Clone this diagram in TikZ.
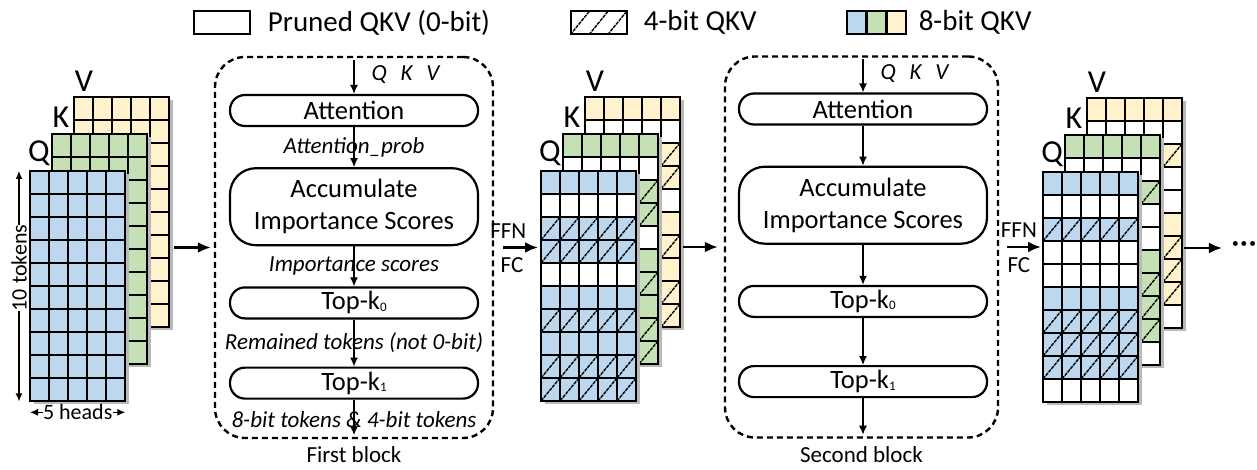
\documentclass[tikz,border=0pt]{standalone}
\usepackage{fontspec}
\setmainfont{Carlito}
\usetikzlibrary{arrows.meta,positioning}
\definecolor{qblue}{HTML}{BDD7EE}
\definecolor{kgreen}{HTML}{C5E0B4}
\definecolor{vyellow}{HTML}{FFF2CC}
\newcommand{\tokgrid}[4]{%
  \fill[gray!55] ({#1+4},{#2+3}) rectangle ++(95,230);
  \foreach \tb [count=\tr from 0] in {#4}{
    \foreach \tc in {0,...,4}{
      \ifnum\tb=0\relax\def\cfill{white}\else\def\cfill{#3}\fi
      \draw[cell,fill=\cfill] ({#1+19*\tc},{#2+23*\tr}) rectangle ++(19,23);
      \ifnum\tb=4\relax\draw[hatch] ({#1+19*\tc},{#2+23*\tr+23}) -- ++(19,-23);\fi
    }
  }
}
\newcommand{\qkvstack}[4]{%
  \tokgrid{#2+44}{#3-74}{vyellow}{#4}
  \tokgrid{#2+22}{#3-37}{kgreen}{#4}
  \tokgrid{#2}{#3}{qblue}{#4}
  \node[stk,anchor=north west] (#1) at ({#2},{#3-74}) {};
  \node[inner sep=0pt,minimum width=95pt,minimum height=230pt,anchor=north west] (#1q) at ({#2},{#3}) {};
  \node[mat] (#1Q) at ({#2+9},{#3-18}) {Q};
  \node[mat] (#1K) at ({#2+31},{#3-54}) {K};
  \node[mat] (#1V) at ({#2+54},{#3-90}) {V};
}
\newcommand{\sub}[1]{\raisebox{-1.5pt}{\fontsize{13}{13}\selectfont #1}}

\begin{document}
\begin{tikzpicture}[x=1pt,y=-1pt,
  every node/.style={align=center},
  cell/.style={draw,line width=1.2pt},
  hatch/.style={draw=black,line width=1.4pt,dash pattern=on 3.5pt off 0.9pt},
  box/.style={draw,line width=2.2pt,rounded corners=15pt,minimum width=248pt,
              minimum height=31pt,inner sep=0pt,font=\fontsize{26.5}{29}\selectfont},
  tallbox/.style={box,minimum height=77pt,rounded corners=26pt,
              font=\fontsize{26.5}{32}\selectfont},
  blk/.style={draw,line width=2.4pt,dash pattern=on 6pt off 4pt,rounded corners=30pt,
              minimum height=381pt},
  lbl/.style={font=\itshape\fontsize{23}{25}\selectfont,inner sep=0pt},
  blkname/.style={font=\fontsize{23}{25}\selectfont},
  ffn/.style={font=\fontsize{23}{25}\selectfont,inner sep=0pt},
  mat/.style={font=\fontsize{32}{34}\selectfont,inner sep=0pt},
  dim/.style={font=\fontsize{22}{24}\selectfont,inner sep=0pt},
  leg/.style={draw,line width=1.4pt,minimum width=56pt,minimum height=23pt,inner sep=0pt},
  legtxt/.style={font=\fontsize{29}{31}\selectfont,inner sep=0pt},
  stk/.style={inner sep=0pt,minimum width=139pt,minimum height=304pt},
  arr/.style={-{Latex[length=9pt,width=8pt]},line width=1.3pt},
  bigarr/.style={-{Latex[length=13pt,width=11pt]},line width=2.4pt},
  dimarr/.style={-{Latex[length=8pt,width=7pt]},line width=1.3pt}
]
\useasboundingbox (0,0) rectangle (1257,470);

\node[leg] (lg0) at (222,22.5) {};
\node[legtxt,right=17pt of lg0] (lt0) {Pruned QKV (0-bit)};
\node[leg] (lg4) at (599,22.5) {};
\foreach \i in {0,1,2}
  \draw[hatch,shift={(lg4.south west)}] (18.7*\i,0) -- ++(18.7,-23);
\node[legtxt,right=16pt of lg4] (lt4) {4-bit QKV};
\node[leg,minimum width=18.7pt,fill=qblue] (lgb) at (856.3,22.5) {};
\node[leg,minimum width=18.7pt,fill=kgreen,right=0pt of lgb] (lgg) {};
\node[leg,minimum width=18.7pt,fill=vyellow,right=0pt of lgg] (lgy) {};
\node[legtxt,right=12pt of lgy] (lt8) {8-bit QKV};

\qkvstack{s1}{30}{171}{8,8,8,8,8,8,8,8,8,8}
\qkvstack{s2}{541}{171}{8,0,4,4,0,8,4,8,4,4}
\qkvstack{s3}{1043}{172}{8,0,4,0,0,8,4,4,4,0}

\node[dim,rotate=90] (tok) at (19,268) {10 tokens};
\draw[dimarr] (tok.east) -- (tok |- s1q.north);
\draw[dimarr] (tok.west) -- (tok |- s1q.south);
\node[dim,below=3pt of s1q] (hd) {5 heads};
\draw[dimarr] (hd.west) -- (hd -| s1q.west);
\draw[dimarr] (hd.east) -- (hd -| s1q.east);

\node[blk,minimum width=278pt] (blk1) at (354,247.5) {};
\node[box] (att1) at (354,110.5) {Attention};
\node[tallbox,below=40pt of att1] (acc1) {Accumulate\\Importance Scores};
\node[box,below=40pt of acc1] (tka1) {Top-k\sub{0}};
\node[box,below=47pt of tka1] (tkb1) {Top-k\sub{1}};
\node[blkname,below=4pt of blk1] (cap1) {First block};

\draw[arr,shorten <=4pt] (att1.north |- blk1.north) -- (att1)
  node[midway,right=17pt,lbl] {Q\hspace{0.6em}K\hspace{0.6em}V};
\draw[arr] (att1) -- (acc1) node[midway,lbl] {Attention\_prob};
\draw[arr] (acc1) -- (tka1) node[midway,lbl] {Importance scores};
\draw[arr] (tka1) -- (tkb1) node[midway,lbl] {Remained tokens (not 0-bit)};
\draw[arr,shorten >=4pt] (tkb1) -- (tkb1 |- blk1.south)
  node[midway,lbl] {8-bit tokens \& 4-bit tokens};

\node[blk,minimum width=273pt] (blk2) at (861.5,247) {};
\node[box] (att2) at (863,109) {Attention};
\node[tallbox,below=40pt of att2] (acc2) {Accumulate\\Importance Scores};
\node[box,below=40pt of acc2] (tka2) {Top-k\sub{0}};
\node[box,below=47pt of tka2] (tkb2) {Top-k\sub{1}};
\node[blkname,below=4pt of blk2] (cap2) {Second block};

\draw[arr,shorten <=4pt] (att2.north |- blk2.north) -- (att2)
  node[midway,right=17pt,lbl] {Q\hspace{0.6em}K\hspace{0.6em}V};
\draw[arr] (att2) -- (acc2);
\draw[arr] (acc2) -- (tka2);
\draw[arr] (tka2) -- (tkb2);
\draw[arr,shorten >=4pt] (tkb2) -- (tkb2 |- blk2.south);

\node[inner sep=0pt] (dots) at (1244,248) {\fontsize{34}{34}\selectfont ···};

\draw[bigarr,shorten <=5pt,shorten >=3pt] (s1.east |- blk1.west) -- (blk1.west);
\draw[bigarr,shorten <=9pt,shorten >=3pt] (blk1.east) -- (s2q.west |- blk1.east)
  node[pos=0.3,above=8pt,ffn] {FFN} node[pos=0.38,below=9pt,ffn] {FC};
\draw[bigarr,shorten <=3pt,shorten >=6pt] (s2.east |- blk2.west) -- (blk2.west);
\draw[bigarr,shorten <=8pt,shorten >=2pt] (blk2.east) -- (s3q.west |- blk2.east)
  node[pos=0.45,above=8pt,ffn] {FFN} node[pos=0.45,below=9pt,ffn] {FC};
\draw[bigarr,shorten <=2pt,shorten >=9pt] (s3.east |- dots) -- (dots);
\end{tikzpicture}
\end{document}
